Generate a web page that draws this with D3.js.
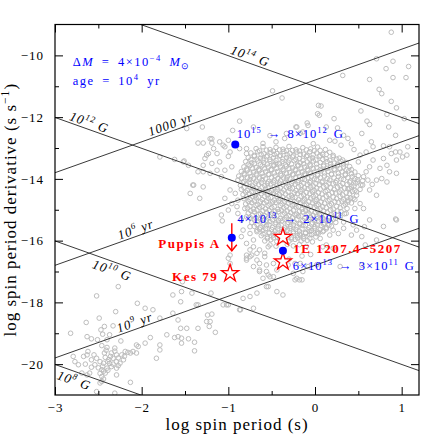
<!DOCTYPE html>
<html>
<head>
<meta charset="utf-8">
<script src="https://d3js.org/d3.v7.min.js"></script>
<style>
  body { margin: 0; background: #fff; }
  text { font-family: "Liberation Serif", "Times New Roman", serif; }
</style>
</head>
<body>
<svg id="chart" width="443" height="443"></svg>
<script>
// radio pulsars, [log P (s), log Pdot (s/s)]
var pulsars = [
  // normal pulsar core
  [-0.68,-13.02],[-0.60,-12.96],[-0.52,-13.05],[-0.45,-12.98],[-0.37,-13.04],[-0.30,-12.95],[-0.22,-13.06],[-0.14,-12.99],[-0.05,-13.03],[0.03,-12.97],[0.12,-13.05],
  [-0.64,-13.09],[-0.56,-13.07],[-0.48,-13.10],[-0.41,-13.06],[-0.33,-13.09],[-0.26,-13.08],[-0.18,-13.1],[-0.10,-13.06],[-0.01,-13.09],[0.06,-13.08],
  [-0.74,-13.16],[-0.66,-13.12],[-0.59,-13.19],[-0.51,-13.14],[-0.44,-13.18],[-0.36,-13.11],[-0.29,-13.17],[-0.21,-13.13],[-0.13,-13.2],[-0.06,-13.12],[0.02,-13.16],[0.09,-13.21],[0.17,-13.14],
  [-0.70,-13.24],[-0.62,-13.22],[-0.55,-13.25],[-0.47,-13.21],[-0.40,-13.24],[-0.32,-13.22],[-0.25,-13.25],[-0.17,-13.21],[-0.09,-13.24],[-0.02,-13.22],[0.06,-13.25],[0.13,-13.21],[0.21,-13.24],
  [-0.77,-13.31],[-0.70,-13.27],[-0.63,-13.33],[-0.56,-13.28],[-0.48,-13.32],[-0.41,-13.26],[-0.33,-13.31],[-0.26,-13.29],[-0.18,-13.34],[-0.10,-13.27],[-0.03,-13.32],[0.05,-13.28],[0.13,-13.35],[0.21,-13.29],[0.28,-13.33],
  [-0.74,-13.38],[-0.67,-13.36],[-0.60,-13.39],[-0.52,-13.37],[-0.45,-13.4],[-0.37,-13.36],[-0.30,-13.39],[-0.22,-13.37],[-0.14,-13.4],[-0.06,-13.36],[0.01,-13.39],[0.09,-13.37],[0.17,-13.4],[0.25,-13.36],[0.32,-13.39],
  [-0.80,-13.44],[-0.73,-13.48],[-0.66,-13.42],[-0.59,-13.47],[-0.52,-13.43],[-0.45,-13.49],[-0.38,-13.44],[-0.31,-13.46],[-0.24,-13.41],[-0.17,-13.48],[-0.09,-13.45],[-0.02,-13.42],[0.06,-13.47],[0.14,-13.44],[0.22,-13.49],[0.30,-13.43],[0.36,-13.47],
  [-0.77,-13.53],[-0.70,-13.51],[-0.63,-13.54],[-0.55,-13.52],[-0.48,-13.55],[-0.41,-13.51],[-0.34,-13.54],[-0.27,-13.52],[-0.20,-13.55],[-0.13,-13.51],[-0.06,-13.54],[0.02,-13.52],[0.10,-13.55],[0.18,-13.51],[0.26,-13.54],[0.33,-13.52],
  [-0.82,-13.61],[-0.75,-13.57],[-0.68,-13.63],[-0.61,-13.58],[-0.54,-13.62],[-0.47,-13.56],[-0.40,-13.61],[-0.33,-13.59],[-0.26,-13.64],[-0.19,-13.57],[-0.12,-13.62],[-0.05,-13.58],[0.02,-13.63],[0.10,-13.59],[0.18,-13.61],[0.26,-13.57],[0.33,-13.62],[0.40,-13.6],
  [-0.79,-13.68],[-0.72,-13.66],[-0.65,-13.69],[-0.58,-13.67],[-0.51,-13.7],[-0.44,-13.66],[-0.37,-13.69],[-0.30,-13.67],[-0.23,-13.7],[-0.16,-13.66],[-0.09,-13.69],[-0.02,-13.67],[0.06,-13.7],[0.14,-13.66],[0.22,-13.69],[0.29,-13.67],[0.36,-13.7],
  [-0.85,-13.76],[-0.78,-13.72],[-0.71,-13.78],[-0.64,-13.73],[-0.57,-13.77],[-0.50,-13.71],[-0.43,-13.76],[-0.36,-13.74],[-0.29,-13.79],[-0.22,-13.72],[-0.15,-13.77],[-0.08,-13.73],[-0.01,-13.78],[0.07,-13.74],[0.15,-13.76],[0.23,-13.71],[0.31,-13.77],[0.39,-13.74],[0.46,-13.78],
  [-0.82,-13.83],[-0.75,-13.81],[-0.68,-13.84],[-0.61,-13.82],[-0.54,-13.85],[-0.47,-13.81],[-0.40,-13.84],[-0.33,-13.82],[-0.26,-13.85],[-0.19,-13.81],[-0.12,-13.84],[-0.05,-13.82],[0.03,-13.85],[0.11,-13.81],[0.19,-13.84],[0.27,-13.82],[0.35,-13.85],[0.42,-13.83],
  [-0.88,-13.91],[-0.81,-13.87],[-0.74,-13.93],[-0.67,-13.88],[-0.60,-13.92],[-0.53,-13.86],[-0.46,-13.91],[-0.39,-13.89],[-0.32,-13.94],[-0.25,-13.87],[-0.18,-13.92],[-0.11,-13.88],[-0.04,-13.93],[0.03,-13.89],[0.11,-13.91],[0.19,-13.86],[0.27,-13.92],[0.35,-13.88],[0.43,-13.93],[0.50,-13.9],
  [-0.85,-13.98],[-0.78,-13.96],[-0.71,-13.99],[-0.64,-13.97],[-0.57,-14.0],[-0.50,-13.96],[-0.43,-13.99],[-0.36,-13.97],[-0.29,-14.0],[-0.22,-13.96],[-0.15,-13.99],[-0.08,-13.97],[-0.01,-14.0],[0.06,-13.96],[0.14,-13.99],[0.22,-13.97],[0.30,-14.0],[0.38,-13.96],[0.46,-13.99],
  [-0.89,-14.04],[-0.82,-14.08],[-0.75,-14.02],[-0.68,-14.07],[-0.61,-14.03],[-0.54,-14.09],[-0.47,-14.04],[-0.40,-14.06],[-0.33,-14.01],[-0.26,-14.08],[-0.19,-14.05],[-0.12,-14.02],[-0.05,-14.07],[0.02,-14.03],[0.09,-14.08],[0.17,-14.04],[0.25,-14.06],[0.33,-14.02],[0.41,-14.07],[0.49,-14.03],[0.55,-14.06],
  [-0.83,-14.13],[-0.76,-14.11],[-0.69,-14.14],[-0.62,-14.12],[-0.55,-14.15],[-0.48,-14.11],[-0.41,-14.14],[-0.34,-14.12],[-0.27,-14.15],[-0.20,-14.11],[-0.13,-14.14],[-0.06,-14.12],[0.01,-14.15],[0.08,-14.11],[0.16,-14.14],[0.24,-14.12],[0.32,-14.15],[0.40,-14.11],[0.47,-14.14],
  [-0.86,-14.21],[-0.79,-14.17],[-0.72,-14.23],[-0.65,-14.18],[-0.58,-14.22],[-0.51,-14.16],[-0.44,-14.21],[-0.37,-14.19],[-0.30,-14.24],[-0.23,-14.17],[-0.16,-14.22],[-0.09,-14.18],[-0.02,-14.23],[0.05,-14.19],[0.13,-14.21],[0.21,-14.16],[0.29,-14.22],[0.37,-14.18],[0.45,-14.23],[0.53,-14.2],
  [-0.82,-14.28],[-0.75,-14.26],[-0.68,-14.29],[-0.61,-14.27],[-0.54,-14.3],[-0.47,-14.26],[-0.40,-14.29],[-0.33,-14.27],[-0.26,-14.3],[-0.19,-14.26],[-0.12,-14.29],[-0.05,-14.27],[0.02,-14.3],[0.10,-14.26],[0.18,-14.29],[0.26,-14.27],[0.34,-14.3],[0.42,-14.26],
  [-0.85,-14.34],[-0.78,-14.38],[-0.71,-14.32],[-0.64,-14.37],[-0.57,-14.33],[-0.50,-14.39],[-0.43,-14.34],[-0.36,-14.36],[-0.29,-14.31],[-0.22,-14.38],[-0.15,-14.35],[-0.08,-14.32],[-0.01,-14.37],[0.06,-14.33],[0.14,-14.38],[0.22,-14.34],[0.30,-14.36],[0.38,-14.32],[0.46,-14.37],[0.52,-14.34],
  [-0.80,-14.43],[-0.73,-14.41],[-0.66,-14.44],[-0.59,-14.42],[-0.52,-14.45],[-0.45,-14.41],[-0.38,-14.44],[-0.31,-14.42],[-0.24,-14.45],[-0.17,-14.41],[-0.10,-14.44],[-0.03,-14.42],[0.04,-14.45],[0.12,-14.41],[0.20,-14.44],[0.28,-14.42],[0.36,-14.45],[0.43,-14.41],
  [-0.83,-14.51],[-0.76,-14.47],[-0.69,-14.53],[-0.62,-14.48],[-0.55,-14.52],[-0.48,-14.46],[-0.41,-14.51],[-0.34,-14.49],[-0.27,-14.54],[-0.20,-14.47],[-0.13,-14.52],[-0.06,-14.48],[0.01,-14.53],[0.08,-14.49],[0.16,-14.51],[0.24,-14.46],[0.32,-14.52],[0.40,-14.48],[0.48,-14.53],
  [-0.79,-14.58],[-0.72,-14.56],[-0.65,-14.59],[-0.58,-14.57],[-0.51,-14.6],[-0.44,-14.56],[-0.37,-14.59],[-0.30,-14.57],[-0.23,-14.6],[-0.16,-14.56],[-0.09,-14.59],[-0.02,-14.57],[0.05,-14.6],[0.13,-14.56],[0.21,-14.59],[0.29,-14.57],[0.37,-14.6],
  [-0.82,-14.64],[-0.75,-14.68],[-0.68,-14.62],[-0.61,-14.67],[-0.54,-14.63],[-0.47,-14.69],[-0.40,-14.64],[-0.33,-14.66],[-0.26,-14.61],[-0.19,-14.68],[-0.12,-14.65],[-0.05,-14.62],[0.02,-14.67],[0.09,-14.63],[0.17,-14.68],[0.25,-14.64],[0.33,-14.66],[0.41,-14.62],[0.46,-14.67],
  [-0.77,-14.73],[-0.70,-14.71],[-0.63,-14.74],[-0.56,-14.72],[-0.49,-14.75],[-0.42,-14.71],[-0.35,-14.74],[-0.28,-14.72],[-0.21,-14.75],[-0.14,-14.71],[-0.07,-14.74],[0.00,-14.72],[0.07,-14.75],[0.15,-14.71],[0.23,-14.74],[0.31,-14.72],[0.38,-14.75],
  [-0.80,-14.81],[-0.73,-14.77],[-0.66,-14.83],[-0.59,-14.78],[-0.52,-14.82],[-0.45,-14.76],[-0.38,-14.81],[-0.31,-14.79],[-0.24,-14.84],[-0.17,-14.77],[-0.10,-14.82],[-0.03,-14.78],[0.04,-14.83],[0.11,-14.79],[0.19,-14.81],[0.27,-14.76],[0.35,-14.82],[0.42,-14.78],
  [-0.75,-14.88],[-0.68,-14.86],[-0.61,-14.89],[-0.54,-14.87],[-0.47,-14.9],[-0.40,-14.86],[-0.33,-14.89],[-0.26,-14.87],[-0.19,-14.9],[-0.12,-14.86],[-0.05,-14.89],[0.02,-14.87],[0.09,-14.9],[0.17,-14.86],[0.25,-14.89],[0.33,-14.87],
  [-0.78,-14.94],[-0.71,-14.98],[-0.64,-14.92],[-0.57,-14.97],[-0.50,-14.93],[-0.43,-14.99],[-0.36,-14.94],[-0.29,-14.96],[-0.22,-14.91],[-0.15,-14.98],[-0.08,-14.95],[-0.01,-14.92],[0.06,-14.97],[0.13,-14.93],[0.21,-14.98],[0.29,-14.94],[0.37,-14.96],
  [-0.74,-15.03],[-0.67,-15.01],[-0.60,-15.04],[-0.53,-15.02],[-0.46,-15.05],[-0.39,-15.01],[-0.32,-15.04],[-0.25,-15.02],[-0.18,-15.05],[-0.11,-15.01],[-0.04,-15.04],[0.03,-15.02],[0.10,-15.05],[0.18,-15.01],[0.26,-15.04],
  [-0.77,-15.11],[-0.70,-15.07],[-0.63,-15.13],[-0.56,-15.08],[-0.49,-15.12],[-0.42,-15.06],[-0.35,-15.11],[-0.28,-15.09],[-0.21,-15.14],[-0.14,-15.07],[-0.07,-15.12],[0.00,-15.08],[0.07,-15.13],[0.14,-15.09],[0.22,-15.11],[0.30,-15.06],[0.34,-15.13],
  [-0.72,-15.18],[-0.65,-15.16],[-0.58,-15.19],[-0.51,-15.17],[-0.44,-15.2],[-0.37,-15.16],[-0.30,-15.19],[-0.23,-15.17],[-0.16,-15.2],[-0.09,-15.16],[-0.02,-15.19],[0.05,-15.17],[0.12,-15.2],[0.19,-15.16],[0.26,-15.19],
  [-0.75,-15.24],[-0.68,-15.28],[-0.61,-15.22],[-0.54,-15.27],[-0.47,-15.23],[-0.40,-15.29],[-0.33,-15.24],[-0.26,-15.26],[-0.19,-15.21],[-0.12,-15.28],[-0.05,-15.25],[0.02,-15.22],[0.09,-15.27],[0.16,-15.23],[0.24,-15.28],[0.29,-15.24],
  [-0.70,-15.33],[-0.63,-15.31],[-0.56,-15.34],[-0.49,-15.32],[-0.42,-15.35],[-0.35,-15.31],[-0.28,-15.34],[-0.21,-15.32],[-0.14,-15.35],[-0.07,-15.31],[0.00,-15.34],[0.07,-15.32],[0.14,-15.35],[0.21,-15.31],
  [-0.73,-15.41],[-0.66,-15.37],[-0.59,-15.43],[-0.52,-15.38],[-0.45,-15.42],[-0.38,-15.36],[-0.31,-15.41],[-0.24,-15.39],[-0.17,-15.44],[-0.10,-15.37],[-0.03,-15.42],[0.04,-15.38],[0.11,-15.43],[0.18,-15.39],[0.24,-15.41],
  [-0.67,-15.48],[-0.60,-15.46],[-0.53,-15.49],[-0.46,-15.47],[-0.39,-15.5],[-0.32,-15.46],[-0.25,-15.49],[-0.18,-15.47],[-0.11,-15.5],[-0.04,-15.46],[0.03,-15.49],[0.10,-15.47],[0.16,-15.5],
  [-0.70,-15.54],[-0.63,-15.58],[-0.56,-15.52],[-0.49,-15.57],[-0.42,-15.53],[-0.35,-15.59],[-0.28,-15.54],[-0.21,-15.56],[-0.14,-15.51],[-0.07,-15.58],[0.00,-15.55],[0.07,-15.52],[0.13,-15.57],[0.19,-15.53],
  [-0.64,-15.63],[-0.57,-15.61],[-0.50,-15.64],[-0.43,-15.62],[-0.36,-15.65],[-0.29,-15.61],[-0.22,-15.64],[-0.15,-15.62],[-0.08,-15.65],[-0.01,-15.61],[0.06,-15.64],[0.13,-15.62],
  [-0.67,-15.71],[-0.60,-15.67],[-0.53,-15.73],[-0.46,-15.68],[-0.39,-15.72],[-0.32,-15.66],[-0.25,-15.71],[-0.18,-15.69],[-0.11,-15.74],[-0.04,-15.67],[0.03,-15.72],[0.10,-15.68],
  [-0.60,-15.78],[-0.53,-15.76],[-0.46,-15.79],[-0.39,-15.77],[-0.32,-15.8],[-0.25,-15.76],[-0.18,-15.79],[-0.11,-15.77],[-0.04,-15.8],[0.04,-15.76],
  [-0.62,-15.84],[-0.55,-15.88],[-0.48,-15.82],[-0.41,-15.87],[-0.34,-15.83],[-0.27,-15.89],[-0.20,-15.84],[-0.13,-15.86],[-0.06,-15.81],[0.01,-15.88],
  [-0.55,-15.93],[-0.48,-15.91],[-0.41,-15.94],[-0.34,-15.92],[-0.27,-15.95],[-0.20,-15.91],[-0.13,-15.94],[-0.06,-15.92],
  [-0.58,-16.01],[-0.51,-15.97],[-0.44,-16.03],[-0.37,-15.98],[-0.30,-16.02],[-0.23,-15.96],[-0.16,-16.01],[-0.09,-15.99],[-0.03,-16.04],
  [-0.52,-16.14],[-0.45,-16.18],[-0.32,-16.12],[-0.25,-16.17],[-0.18,-16.13],[-0.10,-16.19],
  // young, high-field side
  [-1.30,-12.32],[-1.35,-12.84],[-1.29,-12.84],[-1.19,-12.70],[-1.19,-12.84],[-1.10,-12.80],[-1.04,-12.96],[-1.17,-13.02],[-1.13,-13.18],[-0.98,-13.13],
  [-1.00,-13.27],[-0.87,-13.02],[-0.79,-13.02],[-0.79,-13.18],[-1.23,-13.18],[-1.27,-13.34],[-1.79,-13.29],[-1.52,-13.45],[-1.46,-13.56],[-1.29,-13.56],
  [-1.19,-13.50],[-1.13,-13.72],[-1.21,-13.82],[-1.08,-13.93],[-1.04,-13.72],[-0.96,-13.61],[-1.40,-14.20],[-1.29,-14.26],[-1.44,-14.47],[-1.33,-14.63],
  [-0.98,-14.36],[-0.92,-14.47],[-1.04,-14.63],[-0.96,-14.80],[-0.89,-14.69],[-1.08,-15.17],[-1.00,-15.01],[-0.90,-14.90],[-0.81,-14.96],[-0.89,-15.12],
  [-0.85,-15.33],[-0.79,-15.23],[-0.75,-15.55],[-0.83,-15.66],[-0.75,-15.77],[-0.67,-15.66],[-0.71,-15.98],[-0.79,-16.09],[-1.48,-12.37],[-1.21,-12.70],
  [-1.62,-13.37],[-1.51,-13.42],[-1.41,-14.20],[-1.29,-13.77],[-1.35,-13.77],[-1.25,-13.23],[-1.10,-13.45],[-1.06,-12.91],[-1.00,-12.75],
  // upper right
  [0.88,-9.25],[0.71,-10.11],[0.90,-10.19],[1.08,-10.36],[0.82,-10.43],[0.32,-10.65],[0.63,-10.78],[0.90,-10.72],[1.05,-10.72],[0.74,-11.10],
  [0.77,-11.24],[0.88,-11.49],[0.94,-11.70],[-0.38,-11.38],[0.07,-11.64],[0.53,-11.80],[0.83,-11.91],[1.03,-12.05],[0.03,-11.89],[0.05,-11.94],
  [0.22,-12.05],[0.60,-12.13],[0.63,-12.24],[0.85,-12.32],[-0.09,-12.19],[-0.21,-12.32],[0.13,-12.32],[0.26,-12.35],[0.54,-12.53],[0.93,-12.59],
  [0.65,-12.80],[0.79,-12.93],[-0.33,-12.53],[-0.35,-12.69],[-0.02,-12.86],[0.17,-12.75],[0.23,-12.78],[0.38,-12.69],[0.42,-12.86],[0.33,-12.59],
  [0.30,-12.91],[-0.49,-11.15],[0.04,-11.62],[-0.87,-12.13],[-0.71,-12.32],[-0.95,-12.43],[-0.14,-12.48],[-0.22,-12.32],[-0.08,-12.27],[0.88,-13.18],
  [0.93,-13.13],[1.01,-13.29],[1.07,-12.96],[-0.17,-12.52],[-0.52,-12.60],[-0.45,-12.80],[-0.60,-12.85],
  // right of the core
  [0.94,-13.39],[1.06,-13.23],[0.98,-13.13],[0.79,-13.34],[0.83,-13.56],[0.75,-13.66],[0.86,-13.77],[0.94,-13.82],[0.77,-13.99],[0.71,-14.04],
  [0.83,-14.10],[0.71,-14.53],[0.63,-14.36],[0.61,-14.04],[0.56,-13.93],[0.59,-13.77],[0.63,-13.61],[0.67,-13.39],[0.52,-13.23],[0.59,-13.13],
  [0.67,-12.96],[0.86,-12.96],[0.94,-15.33],[0.52,-14.80],[0.56,-14.96],[0.46,-14.96],[0.36,-15.12],[0.48,-14.42],[0.40,-14.31],[0.44,-14.63],
  [0.38,-14.69],[0.48,-15.66],[0.42,-15.82],[0.54,-15.87],[0.33,-15.60],[0.27,-15.77],[0.21,-15.66],[0.17,-15.82],[0.09,-15.71],[0.02,-15.77],
  [-0.06,-15.71],[-0.17,-15.82],[0.06,-15.93],[0.58,-16.14],[0.71,-15.98],[0.13,-16.14],[0.21,-16.25],[0.63,-15.33],[0.93,-15.30],[0.33,-15.40],
  [0.44,-15.49],[0.57,-15.55],[0.79,-15.54],[0.45,-13.05],[0.50,-13.45],[0.42,-13.70],[0.55,-14.20],[0.66,-14.18],[0.49,-14.10],
  // below the core
  [-0.73,-16.47],[-0.67,-16.41],[-0.64,-16.74],[-0.58,-16.52],[-0.56,-17.00],[-0.52,-17.17],[-0.60,-17.22],[-0.67,-17.70],[-0.56,-17.49],[-0.44,-17.65],
  [-0.37,-17.76],[-0.75,-17.81],[-0.83,-17.87],[-1.02,-18.08],[-0.86,-18.24],[-0.71,-18.19],[-0.21,-17.22],[-0.18,-17.27],[-0.25,-17.06],[-0.14,-17.00],
  [-0.31,-16.79],[-0.54,-16.20],[-0.71,-16.20],[-0.79,-16.47],[-0.48,-16.74],[-0.44,-16.95],[-0.23,-16.74],[-0.17,-16.74],[-0.08,-16.84],[-0.98,-16.47],
  [-0.98,-16.74],[-0.75,-16.52],[-0.79,-16.63],[-0.71,-16.84],[-0.64,-17.00],[-0.48,-17.17],[-1.00,-16.57],[-1.07,-15.36],[-0.85,-15.87],[-0.75,-16.30],
  [-0.79,-16.57],[-0.64,-16.30],[-0.67,-16.63],[-0.58,-16.41],[-0.56,-16.79],[-0.64,-16.95],[-0.54,-17.11],[-0.54,-17.49],[-0.15,-17.27],[-0.23,-17.27],
  [-0.30,-16.60],[-0.15,-16.50],[-0.05,-16.45],[0.09,-16.20],[0.29,-16.84],[0.02,-16.78],[0.54,-16.79],
  // old and recycled
  [-2.27,-17.49],[-2.52,-17.79],[-2.05,-18.03],[-1.96,-18.19],[-1.87,-18.24],[-2.30,-18.30],[-1.79,-18.51],[-2.49,-18.51],[-2.64,-18.65],[-2.43,-18.78],
  [-2.33,-18.76],[-2.47,-18.89],[-2.82,-19.00],[-2.45,-19.03],[-2.37,-19.05],[-2.63,-19.11],[-2.58,-19.18],[-2.51,-19.21],[-2.40,-19.21],[-2.24,-19.25],
  [-2.31,-19.48],[-2.40,-19.46],[-2.06,-19.38],[-1.96,-19.32],[-1.90,-19.14],[-2.19,-19.59],[-2.13,-19.64],[-2.10,-19.59],[-2.06,-19.64],[-2.23,-19.70],
  [-2.29,-19.70],[-2.35,-19.64],[-2.43,-19.64],[-2.62,-19.59],[-2.63,-19.70],[-2.67,-19.75],[-2.79,-19.75],[-2.77,-19.92],[-2.73,-20.02],[-2.65,-20.00],
  [-2.58,-19.86],[-2.52,-19.81],[-2.48,-19.92],[-2.54,-20.02],[-2.44,-19.97],[-2.39,-19.92],[-2.33,-19.81],[-2.29,-19.92],[-2.25,-19.97],[-2.21,-19.86],
  [-2.35,-20.08],[-2.40,-20.13],[-2.46,-20.18],[-2.42,-20.29],[-2.46,-20.40],[-2.46,-20.56],[-2.48,-20.61],[-2.60,-20.29],[-2.63,-20.35],[-2.69,-20.29],
  [-2.29,-20.35],[-2.29,-20.13],[-2.13,-20.59],[-2.52,-20.89],[-2.31,-20.94],[-1.83,-19.81],[-1.79,-19.54],[-1.79,-19.38],[-2.04,-19.43],[-1.71,-19.05],
  [-1.64,-18.35],[-1.64,-17.76],[-1.55,-17.98],[-1.54,-17.65],[-1.42,-17.70],[-1.58,-18.57],[-1.55,-18.84],[-1.48,-18.84],[-1.62,-19.14],[-1.58,-19.11],
  [-1.54,-19.16],[-1.54,-19.32],[-1.46,-19.18],[-1.39,-19.29],[-1.39,-19.57],[-1.35,-18.84],[-1.35,-18.08],[-1.20,-17.70],[-1.24,-18.41],[-1.19,-18.38],
  [-1.25,-18.62],[-1.21,-18.62],[-1.22,-18.78],[-1.15,-18.97],[-1.06,-18.08],[-1.00,-18.08],[-0.87,-18.24],[-1.53,-17.33],[-1.37,-18.08],
  [-2.36,-19.75],[-2.31,-19.58],[-2.27,-19.80],[-2.38,-19.85],[-2.42,-19.78],[-2.33,-20.00],[-2.27,-20.05],[-2.37,-19.98],[-2.45,-20.07],[-2.50,-20.12],
  [-2.44,-20.23],[-2.39,-20.20],[-2.48,-20.30],[-2.44,-20.48],[-2.55,-19.70],[-2.58,-20.10],[-2.20,-19.75],[-2.16,-19.62],[-2.41,-19.55],[-2.46,-19.40]
];

// guide lines: dipole field (log B, G) and characteristic age (log yr)
var fieldExps = [8, 10, 12, 14];
var ageExps = [3, 6, 9];
var ageNames = ["1000", "10^6", "10^9"];

// CCOs and their model tracks
var blueP = [-0.92, -0.96, -0.37];
var bluePdot = [-12.89, -15.91, -16.33];
var starP = [-0.37, -0.37, -0.98];
var starPdot = [-15.89, -16.68, -17.06];
var limitP = -0.96, limitTop = -15.44, limitBottom = -16.33;

var xMajor = [-3, -2, -1, 0, 1];
var xMinor = [-2.5, -1.5, -0.5, 0.5];
var yMajor = [-20, -18, -16, -14, -12, -10];
var yMinor = [-19, -17, -15, -13, -11];

var L = 55, R = 419, T = 24.5, B = 395;
var x = d3.scaleLinear().domain([-3, 1.2]).range([L, R]);
var y = d3.scaleLinear().domain([-21, -9]).range([B, T]);

var svg = d3.select("#chart");
svg.append("rect").attr("width", 443).attr("height", 443).attr("fill", "#fff");

svg.append("defs").append("clipPath").attr("id", "clip")
  .append("rect").attr("x", L).attr("y", T).attr("width", R - L).attr("height", B - T);

var plot = svg.append("g").attr("clip-path", "url(#clip)");

plot.selectAll("circle.psr").data(pulsars).enter().append("circle")
  .attr("class", "psr")
  .attr("cx", function (d) { return x(d[0]); })
  .attr("cy", function (d) { return y(d[1]); })
  .attr("r", 2.3)
  .attr("fill", "none")
  .attr("stroke", "#bdbdbd")
  .attr("stroke-width", 1);

// B = 3.2e19 sqrt(P Pdot), tau = P / (2 Pdot)
var bConst = 2 * Math.log10(3.2e19);
var yrSec = 3.156e7;
function fieldPdot(b, p) { return 2 * b - bConst - p; }
function agePdot(a, p) { return p - Math.log10(2 * Math.pow(10, a) * yrSec); }

var line = d3.line().x(function (d) { return x(d[0]); }).y(function (d) { return y(d[1]); });
var pEnds = x.domain();

fieldExps.forEach(function (b) {
  plot.append("path")
    .attr("d", line(pEnds.map(function (p) { return [p, fieldPdot(b, p)]; })))
    .attr("fill", "none").attr("stroke", "#222").attr("stroke-width", 0.9);
});
ageExps.forEach(function (a) {
  plot.append("path")
    .attr("d", line(pEnds.map(function (p) { return [p, agePdot(a, p)]; })))
    .attr("fill", "none").attr("stroke", "#222").attr("stroke-width", 0.9);
});

// rich text: parts are [string, kind] with kind n / sup / sub / i
function rich(sel, parts) {
  var shift = 0;
  parts.forEach(function (p) {
    var t = sel.append("tspan").text(p[0]);
    var want = p[1] === "sup" ? -0.42 : (p[1] === "sub" ? 0.25 : 0);
    var fs = parseFloat(sel.attr("font-size"));
    t.attr("dy", ((want - shift) * fs).toFixed(2));
    shift = want;
    if (p[1] === "sup" || p[1] === "sub") t.attr("font-size", (fs * 0.68).toFixed(1));
    if (p[1] === "i") t.attr("font-style", "italic");
  });
}

// labels on the guide lines
var dAngle = Math.atan2(y(-11) - y(-10), x(1) - x(0)) * 180 / Math.PI;
var fieldLabelAt = [-2.746, -2.308, -2.631, -0.774];
var fieldLabelOff = [13, 13, -2.5, -2.5];
fieldExps.forEach(function (b, i) {
  var p = fieldLabelAt[i];
  var t = svg.append("text")
    .attr("transform", "translate(" + x(p) + "," + y(fieldPdot(b, p)) + ") rotate(" + dAngle + ")")
    .attr("y", fieldLabelOff[i])
    .attr("text-anchor", "middle").attr("font-size", 13).attr("font-style", "italic")
    .attr("letter-spacing", 1);
  rich(t, [["10", "n"], [String(b), "sup"], [" G", "n"]]);
});
var ageLabelAt = [-1.639, -2.043, -2.054];
ageExps.forEach(function (a, i) {
  var p = ageLabelAt[i];
  var t = svg.append("text")
    .attr("transform", "translate(" + x(p) + "," + y(agePdot(a, p)) + ") rotate(" + (-dAngle) + ")")
    .attr("y", -2.5)
    .attr("text-anchor", "middle").attr("font-size", 13).attr("font-style", "italic")
    .attr("letter-spacing", 1);
  var nm = ageNames[i].split("^");
  if (nm.length > 1) rich(t, [[nm[0], "n"], [nm[1], "sup"], [" yr", "n"]]);
  else rich(t, [[nm[0] + " yr", "n"]]);
});

// stars
var star = d3.symbol().type(d3.symbolStar).size(92);
svg.selectAll("path.star").data(starP).enter().append("path")
  .attr("transform", function (d, i) { return "translate(" + x(d) + "," + y(starPdot[i]) + ")"; })
  .attr("d", star)
  .attr("fill", "#fff").attr("stroke", "#ff0000").attr("stroke-width", 1.3);

// Puppis A upper limit
svg.append("line")
  .attr("x1", x(limitP)).attr("x2", x(limitP))
  .attr("y1", y(limitTop)).attr("y2", y(limitBottom))
  .attr("stroke", "#ff0000").attr("stroke-width", 1.4);
svg.append("path")
  .attr("d", "M" + (x(limitP) - 5) + "," + (y(limitBottom) - 6) + "L" + x(limitP) + "," + y(limitBottom) + "L" + (x(limitP) + 5) + "," + (y(limitBottom) - 6))
  .attr("fill", "none").attr("stroke", "#ff0000").attr("stroke-width", 1.4);

svg.selectAll("circle.cco").data(blueP).enter().append("circle")
  .attr("class", "cco")
  .attr("cx", function (d) { return x(d); })
  .attr("cy", function (d, i) { return y(bluePdot[i]); })
  .attr("r", 4)
  .attr("fill", "#0000ff");

// annotations
function note(p, pd, anchor, color, bold, parts) {
  var t = svg.append("text")
    .attr("x", x(p)).attr("y", y(pd))
    .attr("text-anchor", anchor)
    .attr("font-size", bold ? 13 : 12.5)
    .attr("font-weight", bold ? "bold" : "normal")
    .attr("letter-spacing", bold ? 1.5 : 1)
    .attr("word-spacing", bold ? 0 : 2)
    .attr("fill", color);
  rich(t, parts);
}
note(-0.904, -12.69, "start", "#0000ff", false, [["10", "n"], ["15", "sup"], [" \u2192 8\u00d710", "n"], ["12", "sup"], [" G", "n"]]);
note(-0.897, -15.44, "start", "#0000ff", false, [["4\u00d710", "n"], ["13", "sup"], [" \u2192 2\u00d710", "n"], ["11", "sup"], [" G", "n"]]);
note(-0.258, -16.95, "start", "#0000ff", false, [["6\u00d710", "n"], ["13", "sup"], [" \u2192 3\u00d710", "n"], ["11", "sup"], [" G", "n"]]);
note(-0.251, -16.41, "start", "#ff0000", true, [["1E 1207.4\u22125207", "n"]]);
note(-1.09, -16.25, "end", "#ff0000", true, [["Puppis A", "n"]]);
note(-1.116, -17.31, "end", "#ff0000", true, [["Kes 79", "n"]]);

// accreted mass / age legend
var leg1 = svg.append("text").attr("x", 72.7).attr("y", 66)
  .attr("font-size", 12.5).attr("letter-spacing", 1.5).attr("word-spacing", 3).attr("fill", "#0000ff");
rich(leg1, [["\u0394", "n"], ["M", "i"], [" = 4\u00d710", "n"], ["\u22124", "sup"], [" ", "n"], ["M", "i"], ["\u2299", "sub"]]);
var leg2 = svg.append("text").attr("x", 72.7).attr("y", 85)
  .attr("font-size", 12.5).attr("letter-spacing", 1.5).attr("word-spacing", 3).attr("fill", "#0000ff");
rich(leg2, [["age = 10", "n"], ["4", "sup"], [" yr", "n"]]);

// axes
function styleAxis(g, labels) {
  g.select(".domain").remove();
  g.selectAll(".tick line").attr("stroke", "#000").attr("stroke-width", 1);
  g.selectAll(".tick text").attr("fill", "#000")
    .attr("font-family", "'Liberation Serif', 'Times New Roman', serif")
    .attr("font-size", 13).attr("letter-spacing", 1);
  if (!labels) g.selectAll(".tick text").remove();
}
var fmt = d3.format("d");
svg.append("g").attr("transform", "translate(0," + B + ")")
  .call(d3.axisBottom(x).tickValues(xMajor).tickSize(-8).tickPadding(8).tickFormat(fmt))
  .call(styleAxis, true);
svg.append("g").attr("transform", "translate(0," + B + ")")
  .call(d3.axisBottom(x).tickValues(xMinor).tickSize(-4))
  .call(styleAxis, false);
svg.append("g").attr("transform", "translate(0," + T + ")")
  .call(d3.axisTop(x).tickValues(xMajor).tickSize(-8))
  .call(styleAxis, false);
svg.append("g").attr("transform", "translate(0," + T + ")")
  .call(d3.axisTop(x).tickValues(xMinor).tickSize(-4))
  .call(styleAxis, false);
svg.append("g").attr("transform", "translate(" + L + ",0)")
  .call(d3.axisLeft(y).tickValues(yMajor).tickSize(-8).tickPadding(11).tickFormat(fmt))
  .call(styleAxis, true);
svg.append("g").attr("transform", "translate(" + L + ",0)")
  .call(d3.axisLeft(y).tickValues(yMinor).tickSize(-4))
  .call(styleAxis, false);
svg.append("g").attr("transform", "translate(" + R + ",0)")
  .call(d3.axisRight(y).tickValues(yMajor).tickSize(-8))
  .call(styleAxis, false);
svg.append("g").attr("transform", "translate(" + R + ",0)")
  .call(d3.axisRight(y).tickValues(yMinor).tickSize(-4))
  .call(styleAxis, false);

svg.append("rect")
  .attr("x", L).attr("y", T).attr("width", R - L).attr("height", B - T)
  .attr("fill", "none").attr("stroke", "#000").attr("stroke-width", 1.2);

// axis titles
svg.append("text").attr("x", (L + R) / 2).attr("y", 430)
  .attr("text-anchor", "middle").attr("font-size", 17).attr("letter-spacing", 1)
  .text("log spin period (s)");
var yt = svg.append("text")
  .attr("transform", "translate(16," + ((T + B) / 2) + ") rotate(-90)")
  .attr("text-anchor", "middle").attr("font-size", 17).attr("letter-spacing", 1);
rich(yt, [["log spin period derivative (s s", "n"], ["\u22121", "sup"], [")", "n"]]);
</script>
</body>
</html>
